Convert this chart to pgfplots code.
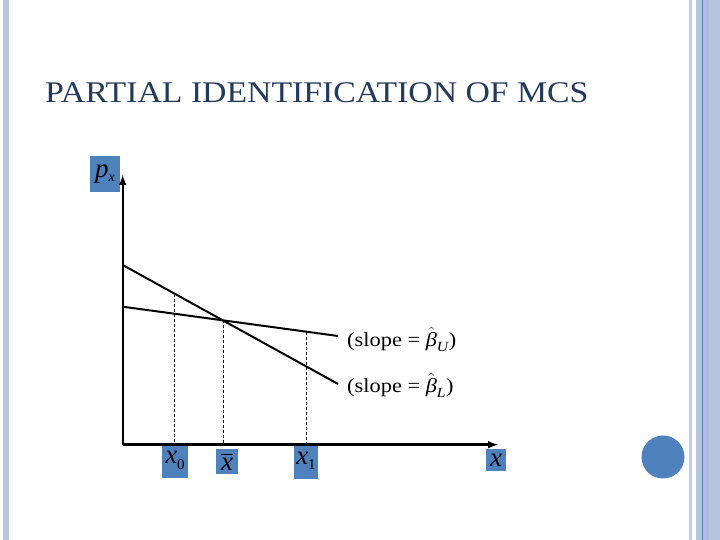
\documentclass[border=0pt]{standalone}
\usepackage{fontspec}
\setmainfont{Liberation Serif}
\usepackage{amsmath}
\usepackage{graphicx}
\usepackage{pgfplots}
\pgfplotsset{compat=1.18}

\definecolor{boxblue}{RGB}{79,129,189}
\definecolor{stripe}{RGB}{184,197,222}
\definecolor{stripedark}{RGB}{93,127,176}
\definecolor{stripemid}{RGB}{174,190,224}
\definecolor{titleblue}{RGB}{35,58,92}

\newcommand{\bhat}[1]{$\hat{\text{\itshape β}}_{\text{\itshape #1}}$}

\begin{document}
\begin{tikzpicture}[x=1pt,y=1pt]
% slide frame
\useasboundingbox (0,0) rectangle (720,540);
\fill[white] (0,0) rectangle (720,540);
\fill[stripe] (3,0) rectangle (9,540);
\fill[stripe!85!white] (689,0) rectangle (692,540);
\fill[stripe] (696,0) rectangle (720,540);
\fill[stripemid] (703,0) rectangle (708.7,540);
\fill[stripedark] (702,0) rectangle (703,540);
\fill[boxblue] (663,83) circle (21.5);

% title (slide text is stretched sideways)
\node[anchor=base west, inner sep=0, text=titleblue, font=\fontsize{30}{30}\selectfont]
  at (45,437.3) {\scalebox{1.125}[1]{PARTIAL IDENTIFICATION OF MCS}};

% blue label boxes
\node[fill=boxblue, minimum width=30, minimum height=36, inner sep=0] at (105,366)
  {\fontsize{27}{27}\selectfont\textit{p}\raisebox{-0.15em}{\fontsize{14}{14}\selectfont\textit{x}}};
\node[fill=boxblue, minimum width=26, minimum height=35, inner sep=0] at (175,79.5)
  {\fontsize{27}{27}\selectfont\textit{x}\raisebox{-0.2em}{\fontsize{15}{15}\selectfont 0}};
\node[fill=boxblue, minimum width=22, minimum height=25, inner sep=0] at (227,78.5)
  {\fontsize{27}{27}\selectfont$\overline{\mbox{\textit{x}}}$};
\node[fill=boxblue, minimum width=24, minimum height=36, inner sep=0] at (306,79)
  {\fontsize{27}{27}\selectfont\textit{x}\raisebox{-0.2em}{\fontsize{15}{15}\selectfont 1}};
\node[fill=boxblue, minimum width=20, minimum height=22, inner sep=0] at (496,80)
  {\fontsize{27}{27}\selectfont\textit{x}};

\begin{axis}[
    at={(122.7pt,95.3pt)}, anchor=south west,
    scale only axis,
    width=375.3pt, height=269.7pt,
    xmin=0, xmax=375.3, ymin=0, ymax=269.7,
    axis lines=left,
    axis line style={line width=2.4pt, -latex},
    xtick=\empty, ytick=\empty,
    clip=false
]
% steeper line (slope beta_L)
\addplot[black, line width=2pt] coordinates {(0,179.7) (215.3,60.7)};
% flatter line (slope beta_U)
\addplot[black, line width=2pt] coordinates {(0,138) (215.3,108.7)};
% dashed drop lines
\addplot[black, line width=0.9pt, dash pattern=on 3pt off 2pt] coordinates {(52,151) (52,0)};
\addplot[black, line width=0.9pt, dash pattern=on 3pt off 2pt] coordinates {(100.6,124.2) (100.6,0)};
\addplot[black, line width=0.9pt, dash pattern=on 3pt off 2pt] coordinates {(184,113) (184,0)};
\end{axis}

% slope labels
\node[anchor=west, inner sep=0, font=\fontsize{20}{20}\selectfont] at (347,201)
  {\scalebox{1.12}[1]{(slope = \bhat{U})}};
\node[anchor=west, inner sep=0, font=\fontsize{20}{20}\selectfont] at (347,155)
  {\scalebox{1.12}[1]{(slope = \bhat{L})}};
\end{tikzpicture}
\end{document}
